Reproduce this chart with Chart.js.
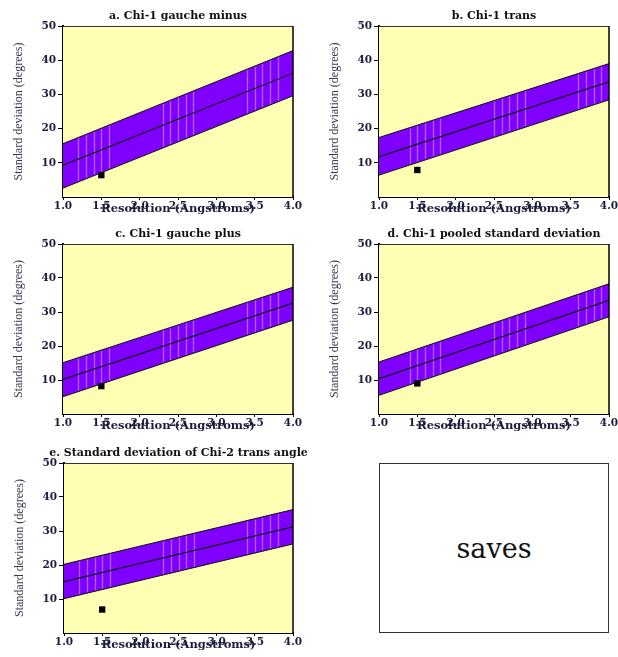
<!DOCTYPE html>
<html>
<head>
<meta charset="utf-8">
<script src="https://cdn.jsdelivr.net/npm/chart.js@4.4.1/dist/chart.umd.min.js"></script>
<style>
  html, body { margin: 0; padding: 0; background: #fff; }
  body { width: 618px; height: 657px; position: relative; overflow: hidden; }
  canvas { position: absolute; }
  #saves { position: absolute; left: 379px; top: 463px; width: 228px; height: 168px;
    border: 1.5px solid #333; display: flex; align-items: center; justify-content: center;
    font-family: 'DejaVu Serif', serif; font-size: 27px; color: #111; background: #fff; }
</style>
</head>
<body>
<canvas id="ca" width="305" height="216" style="left:0px;top:0px"></canvas>
<canvas id="cb" width="302" height="216" style="left:316px;top:0px"></canvas>
<canvas id="cc" width="305" height="215" style="left:0px;top:218px"></canvas>
<canvas id="cd" width="302" height="215" style="left:316px;top:218px"></canvas>
<canvas id="ce" width="355" height="215" style="left:1px;top:437px"></canvas>
<div id="saves">saves</div>
<script>
// ---- data ----
const resolution = [1.0, 4.0];            // x extent of the fitted lines (Angstroms)
const xTicks = [1.0, 1.5, 2.0, 2.5, 3.0, 3.5, 4.0];
const yTicks = [10, 20, 30, 40, 50];

const titles = [
  'a. Chi-1 gauche minus',
  'b. Chi-1 trans',
  'c. Chi-1 gauche plus',
  'd. Chi-1 pooled standard deviation',
  'e. Standard deviation of Chi-2 trans angle'
];

// fitted mean line and band limits at resolution 1.0 and 4.0
const meanA  = [9.3, 36.2];  const upperA = [15.6, 42.8]; const lowerA = [2.6, 29.6];
const meanB  = [11.8, 33.7]; const upperB = [17.4, 39.0]; const lowerB = [6.4, 28.4];
const meanC  = [10.2, 32.6]; const upperC = [15.1, 37.3]; const lowerC = [5.1, 27.6];
const meanD  = [10.4, 33.4]; const upperD = [15.3, 38.3]; const lowerD = [5.5, 28.6];
const meanE  = [15.1, 31.2]; const upperE = [20.2, 36.3]; const lowerE = [10.1, 26.2];

// single observed value (black square) at 1.5 A
const pointX = 1.5;
const pointA = 6.4; const pointB = 7.9; const pointC = 8.2; const pointD = 9.0; const pointE = 6.9;

// light stripes inside the band
const stripes1 = [1.2, 1.3, 1.4, 1.5, 1.6, 2.3, 2.4, 2.5, 2.6, 2.7, 3.4, 3.5, 3.6, 3.7, 3.8];
const stripes2 = [1.4, 1.5, 1.6, 1.7, 1.8, 2.5, 2.6, 2.7, 2.8, 2.9, 3.6, 3.7, 3.8, 3.9];

// ---- styling ----
const PURPLE = '#7f00ff';
const YELLOW = '#ffffb4';
const TICK_FONT = { family: 'DejaVu Serif', size: 10.5, weight: 'bold' };
const TICK_COLOR = '#1c1c3c';

const bgPlugin = {
  id: 'plotBg',
  beforeDatasetsDraw(chart) {
    const a = chart.chartArea, ctx = chart.ctx;
    ctx.save(); ctx.fillStyle = YELLOW;
    ctx.fillRect(a.left, a.top, a.right - a.left, a.bottom - a.top);
    ctx.restore();
  },
  afterDraw(chart) {
    const a = chart.chartArea, ctx = chart.ctx;
    ctx.save();
    ctx.strokeStyle = '#333'; ctx.lineWidth = 1;
    ctx.beginPath(); ctx.moveTo(a.left, a.top + 0.5); ctx.lineTo(a.right, a.top + 0.5); ctx.stroke();
    ctx.strokeStyle = '#000'; ctx.lineWidth = 1.5;
    ctx.beginPath(); ctx.moveTo(a.right, a.top); ctx.lineTo(a.right, a.bottom); ctx.stroke();
    ctx.restore();
  }
};

const stripePlugin = {
  id: 'stripes',
  afterDatasetDraw(chart, args, opts) {
    if (args.index !== 0) return;
    const up = chart.getDatasetMeta(0).data, lo = chart.getDatasetMeta(1).data;
    const ctx = chart.ctx, a = chart.chartArea, xs = chart.scales.x;
    ctx.save();
    ctx.beginPath();
    up.forEach((p, i) => i ? ctx.lineTo(p.x, p.y + 1) : ctx.moveTo(p.x, p.y + 1));
    for (let i = lo.length - 1; i >= 0; i--) ctx.lineTo(lo[i].x, lo[i].y - 1);
    ctx.closePath(); ctx.clip();
    ctx.strokeStyle = 'rgba(255,255,255,0.38)'; ctx.lineWidth = 1.3;
    (opts.positions || []).forEach(v => {
      const px = Math.round(xs.getPixelForValue(v)) + 0.5;
      ctx.beginPath(); ctx.moveTo(px, a.top); ctx.lineTo(px, a.bottom); ctx.stroke();
    });
    ctx.restore();
  }
};

function pts(vals) { return resolution.map((x, i) => ({ x: x, y: vals[i] })); }

function makePanel(id, title, upper, mean, lower, pointY, stripes, padRight, wideTitle) {
  const scales = {
    x: {
      type: 'linear', min: 1, max: 4, z: 1,
      afterBuildTicks: s => { s.ticks = xTicks.map(v => ({ value: v })); },
      ticks: { callback: v => Number(v).toFixed(1), font: TICK_FONT, color: TICK_COLOR,
        padding: 0, maxRotation: 0, autoSkip: false },
      grid: { drawOnChartArea: false, drawTicks: true, tickLength: 3, color: '#000', tickWidth: 1 },
      border: { display: true, color: '#000', width: 2 },
      title: { display: true, text: 'Resolution (Angstroms)', color: '#1c1c3c',
        font: { family: 'DejaVu Serif', size: 11.5, weight: 'bold', lineHeight: 1.2 },
        padding: { top: 0, bottom: 0 } },
      afterFit: s => { s.height = 19; s.paddingLeft = 0; s.paddingRight = 0; }
    },
    y: {
      min: 0, max: 50, z: 1,
      afterBuildTicks: s => { s.ticks = yTicks.map(v => ({ value: v })); },
      ticks: { font: TICK_FONT, color: TICK_COLOR, padding: 2 },
      grid: { drawOnChartArea: false, drawTicks: true, tickLength: 5, color: '#000', tickWidth: 1 },
      border: { display: true, color: '#000', width: 2 },
      title: { display: true, text: 'Standard deviation (degrees)', color: '#3e3650',
        font: { family: 'Liberation Serif', size: 12, lineHeight: 1.2 },
        padding: { top: 12, bottom: 0 } },
      afterFit: s => { s.width = 63; s.paddingTop = 0; s.paddingBottom = 0; }
    }
  };
  if (wideTitle) {
    // empty right-hand spacer axis so the full-width title is centred over the plot
    scales.ySpacer = {
      position: 'right', min: 0, max: 50,
      grid: { display: false }, border: { display: false }, ticks: { display: false },
      afterFit: s => { s.width = 63; s.paddingTop = 0; s.paddingBottom = 0; }
    };
  }
  new Chart(document.getElementById(id), {
    type: 'scatter',
    data: {
      datasets: [
        { data: pts(upper), showLine: true, borderColor: '#111', borderWidth: 1, pointRadius: 0,
          fill: '+1', backgroundColor: PURPLE, order: 4 },
        { data: pts(lower), showLine: true, borderColor: '#111', borderWidth: 1, pointRadius: 0,
          fill: false, order: 3 },
        { data: pts(mean), showLine: true, borderColor: '#111', borderWidth: 1.2, pointRadius: 0,
          fill: false, order: 2 },
        { data: [{ x: pointX, y: pointY }], pointStyle: 'rect', pointRadius: 4.5,
          backgroundColor: '#000', borderColor: '#000', borderWidth: 0, order: 1 }
      ]
    },
    options: {
      responsive: false, animation: false, devicePixelRatio: 1,
      layout: { padding: { left: 0, right: padRight, top: 0, bottom: 0 } },
      plugins: {
        legend: { display: false }, tooltip: { enabled: false },
        title: { display: true, text: title, fullSize: !!wideTitle, color: '#111',
          font: { family: 'DejaVu Serif', size: 11, weight: 'bold', lineHeight: 1.2 },
          padding: { top: 10, bottom: 2.8 } },
        stripes: { positions: stripes }
      },
      scales: scales
    },
    plugins: [bgPlugin, stripePlugin]
  });
}

makePanel('ca', titles[0], upperA, meanA, lowerA, pointA, stripes1, 12, false);
makePanel('cb', titles[1], upperB, meanB, lowerB, pointB, stripes2, 9, false);
makePanel('cc', titles[2], upperC, meanC, lowerC, pointC, stripes1, 12, false);
makePanel('cd', titles[3], upperD, meanD, lowerD, pointD, stripes2, 9, false);
makePanel('ce', titles[4], upperE, meanE, lowerE, pointE, stripes1, 0, true);
</script>
</body>
</html>
